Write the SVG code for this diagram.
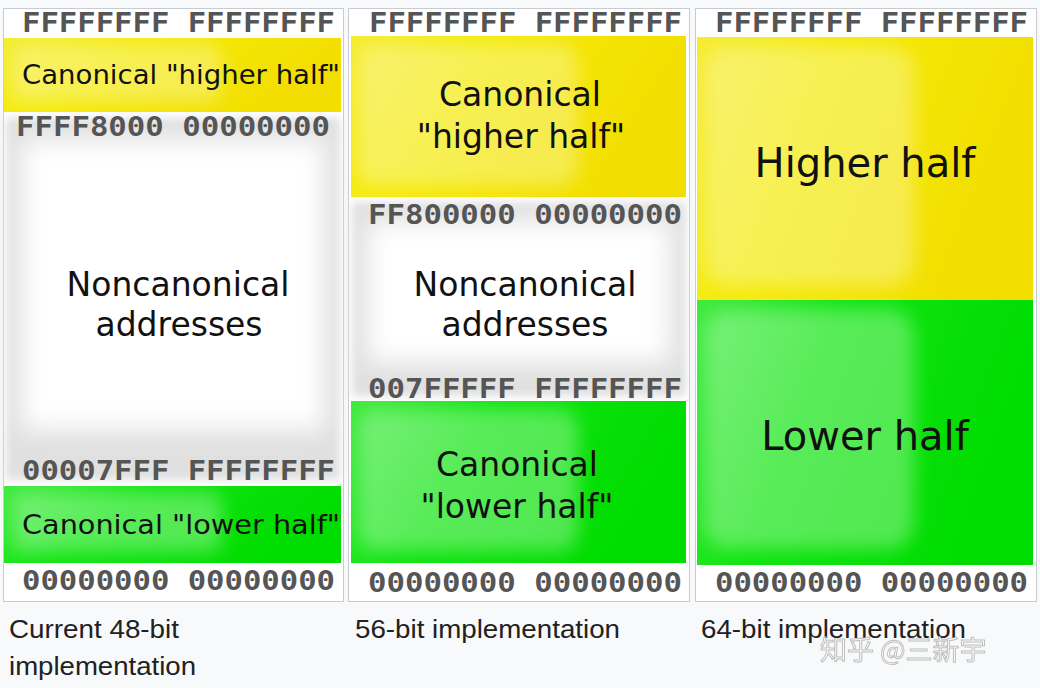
<svg xmlns="http://www.w3.org/2000/svg" width="1040" height="688" viewBox="0 0 1040 688">
<defs>
<style>
.mono{font-family:"DejaVu Sans Mono","Liberation Mono",monospace;font-weight:bold;font-size:27px;fill:#555555}
.lbl{font-family:"DejaVu Sans","Liberation Sans",sans-serif;fill:#111111;text-anchor:middle}
.cap{font-family:"Liberation Sans",Arial,sans-serif;font-size:25px;fill:#202122}
.frame{fill:#ffffff;stroke:#c8ccd1;stroke-width:1}
.hl{fill:#ffffff;opacity:0.3}
</style>
<linearGradient id="yel" x1="0" y1="0" x2="1" y2="0.3">
<stop offset="0" stop-color="#f5ec30"/>
<stop offset="0.4" stop-color="#f4ea08"/>
<stop offset="1" stop-color="#f2de00"/>
</linearGradient>
<linearGradient id="grn" x1="0" y1="0" x2="1" y2="0.3">
<stop offset="0" stop-color="#40ea40"/>
<stop offset="0.4" stop-color="#10e410"/>
<stop offset="1" stop-color="#00dc00"/>
</linearGradient>
<filter id="blur" x="-30%" y="-30%" width="160%" height="160%"><feGaussianBlur stdDeviation="12"/></filter>
<filter id="hblur" x="-30%" y="-30%" width="160%" height="160%"><feGaussianBlur stdDeviation="9"/></filter>
<filter id="soft" x="-20%" y="-20%" width="140%" height="140%"><feGaussianBlur stdDeviation="4"/></filter>
</defs>
<rect width="1040" height="688" fill="#f8f9fa"/>

<g id="panel1">
<rect class="frame" x="3.5" y="8.5" width="340" height="593"/>
<rect x="6" y="118" width="334" height="362" fill="#e0e0e0" filter="url(#soft)"/>
<rect x="22" y="140" width="302" height="290" fill="#ffffff" filter="url(#blur)"/>
<rect x="4" y="38" width="337" height="74" fill="url(#yel)"/>
<rect class="hl" x="12" y="44" width="210" height="58" rx="14" filter="url(#hblur)"/>
<rect x="4" y="486" width="337" height="77" fill="url(#grn)"/>
<rect class="hl" x="12" y="492" width="210" height="60" rx="14" filter="url(#hblur)"/>
<text class="mono" x="22" y="32" textLength="313" lengthAdjust="spacingAndGlyphs">FFFFFFFF FFFFFFFF</text>
<text class="lbl" x="181" y="84" font-size="27" textLength="318" lengthAdjust="spacingAndGlyphs">Canonical "higher half"</text>
<text class="mono" x="16" y="136" textLength="314" lengthAdjust="spacingAndGlyphs">FFFF8000 00000000</text>
<text class="lbl" x="178" y="296" font-size="33">Noncanonical</text>
<text class="lbl" x="179" y="336" font-size="33">addresses</text>
<text class="mono" x="22" y="480" textLength="313" lengthAdjust="spacingAndGlyphs">00007FFF FFFFFFFF</text>
<text class="lbl" x="181" y="534" font-size="27" textLength="318" lengthAdjust="spacingAndGlyphs">Canonical "lower half"</text>
<text class="mono" x="22" y="590" textLength="313" lengthAdjust="spacingAndGlyphs">00000000 00000000</text>
</g>

<g id="panel2">
<rect class="frame" x="348.5" y="8.5" width="341" height="593"/>
<rect x="352" y="202" width="334" height="194" fill="#e0e0e0" filter="url(#soft)"/>
<rect x="368" y="222" width="302" height="140" fill="#ffffff" filter="url(#blur)"/>
<rect x="351" y="36" width="335" height="161" fill="url(#yel)"/>
<rect class="hl" x="358" y="44" width="220" height="142" rx="20" filter="url(#hblur)"/>
<rect x="351" y="401" width="335" height="162" fill="url(#grn)"/>
<rect class="hl" x="358" y="409" width="220" height="142" rx="20" filter="url(#hblur)"/>
<text class="mono" x="369" y="32" textLength="313" lengthAdjust="spacingAndGlyphs">FFFFFFFF FFFFFFFF</text>
<text class="lbl" x="520" y="106" font-size="33">Canonical</text>
<text class="lbl" x="521" y="148" font-size="33">"higher half"</text>
<text class="mono" x="368" y="224" textLength="314" lengthAdjust="spacingAndGlyphs">FF800000 00000000</text>
<text class="lbl" x="525" y="296" font-size="33">Noncanonical</text>
<text class="lbl" x="525" y="336" font-size="33">addresses</text>
<text class="mono" x="368" y="398" textLength="314" lengthAdjust="spacingAndGlyphs">007FFFFF FFFFFFFF</text>
<text class="lbl" x="517" y="476" font-size="33">Canonical</text>
<text class="lbl" x="517" y="518" font-size="33">"lower half"</text>
<text class="mono" x="368" y="592" textLength="314" lengthAdjust="spacingAndGlyphs">00000000 00000000</text>
</g>

<g id="panel3">
<rect class="frame" x="695.5" y="8.5" width="341" height="593"/>
<rect x="697" y="37" width="336" height="263" fill="url(#yel)"/>
<rect class="hl" x="704" y="46" width="210" height="240" rx="26" filter="url(#hblur)"/>
<rect x="697" y="300" width="336" height="265" fill="url(#grn)"/>
<rect class="hl" x="704" y="309" width="210" height="240" rx="26" filter="url(#hblur)"/>
<text class="mono" x="715" y="32" textLength="313" lengthAdjust="spacingAndGlyphs">FFFFFFFF FFFFFFFF</text>
<text class="lbl" x="865" y="177" font-size="40">Higher half</text>
<text class="lbl" x="865" y="450" font-size="40">Lower half</text>
<text class="mono" x="715" y="592" textLength="313" lengthAdjust="spacingAndGlyphs">00000000 00000000</text>
</g>

<g id="captions">
<text class="cap" x="9" y="638" textLength="170" lengthAdjust="spacingAndGlyphs">Current 48-bit</text>
<text class="cap" x="9" y="675" textLength="187" lengthAdjust="spacingAndGlyphs">implementation</text>
<text class="cap" x="355" y="638" textLength="265" lengthAdjust="spacingAndGlyphs">56-bit implementation</text>
<text class="cap" x="701" y="638" textLength="265" lengthAdjust="spacingAndGlyphs">64-bit implementation</text>
</g>
<text x="820" y="660" font-family="'Noto Sans CJK SC',sans-serif" font-size="27" fill="#ffffff" stroke="#b0b0b0" stroke-width="1" opacity="0.8">知乎 @三新宇</text>
</svg>
